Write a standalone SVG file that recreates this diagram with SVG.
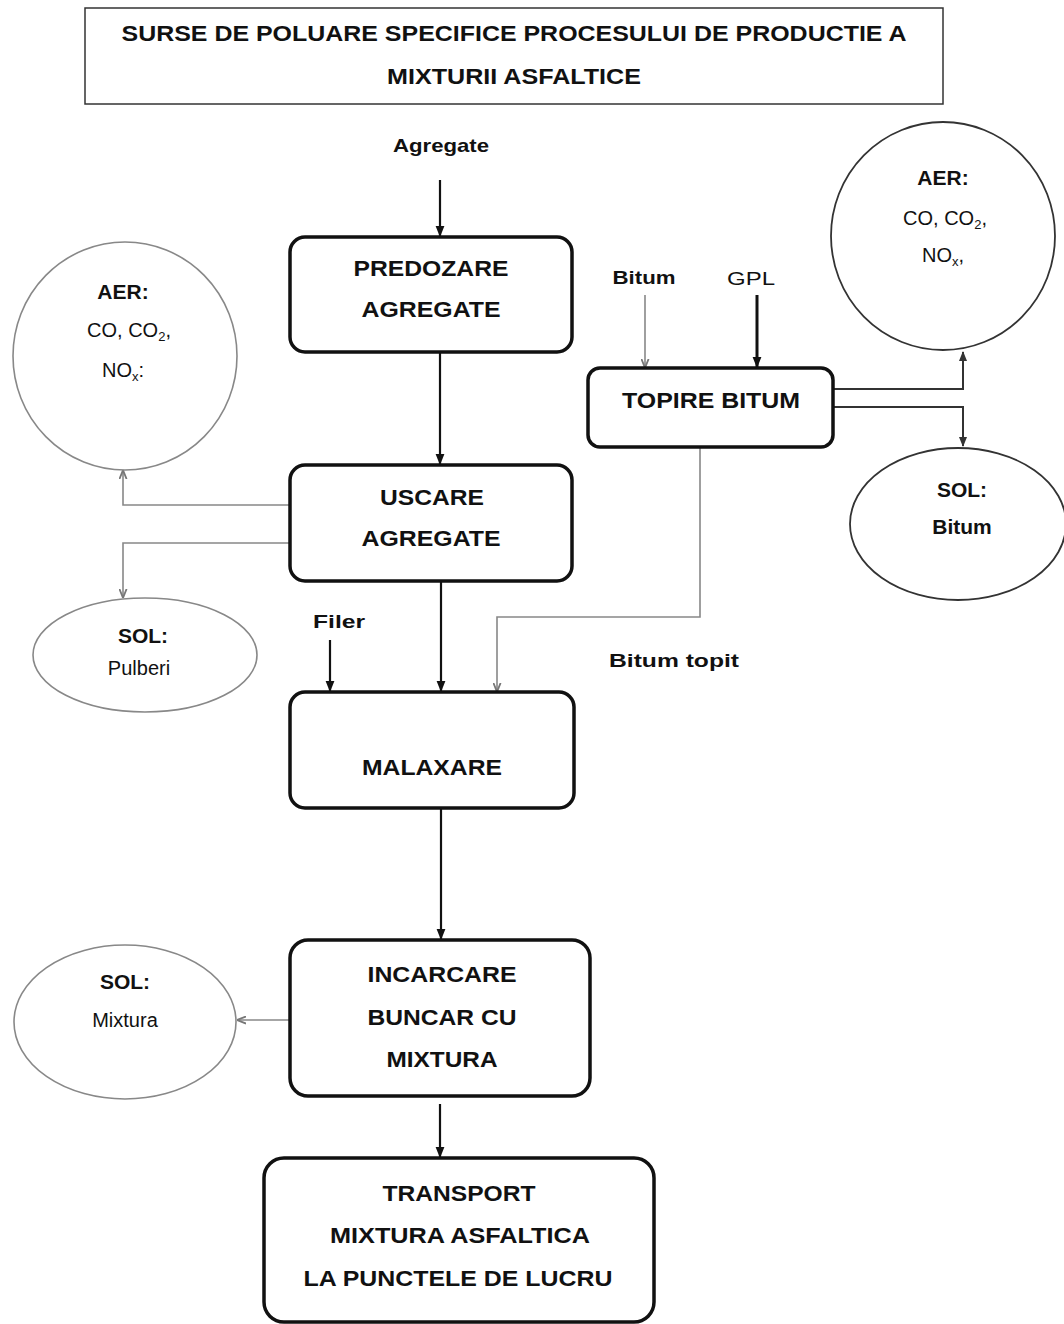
<svg xmlns="http://www.w3.org/2000/svg" width="1064" height="1324" viewBox="0 0 1064 1324">
<defs>
<marker id="ab" viewBox="0 0 10 10" refX="9" refY="5" markerWidth="11" markerHeight="11" orient="auto" markerUnits="userSpaceOnUse">
<path d="M0,1 L10,5 L0,9 z" fill="#111"/>
</marker>
<marker id="ag" viewBox="0 0 10 10" refX="9" refY="5" markerWidth="9" markerHeight="9" orient="auto" markerUnits="userSpaceOnUse">
<path d="M0,1 L10,5 L0,9" fill="none" stroke="#777" stroke-width="2"/>
</marker>
<marker id="ad" viewBox="0 0 10 10" refX="9" refY="5" markerWidth="10" markerHeight="10" orient="auto" markerUnits="userSpaceOnUse">
<path d="M0,1 L10,5 L0,9 z" fill="#333"/>
</marker>
</defs>
<style>
text{font-family:"Liberation Sans",Arial,sans-serif;fill:#111}
.t{font-size:22px;font-weight:bold;text-anchor:middle}
.b{font-size:22px;font-weight:bold;text-anchor:middle}
.l{font-size:19px;font-weight:bold;text-anchor:middle}
.lr{font-size:19px;text-anchor:middle}
.e{font-size:20px;text-anchor:middle}
.eb{font-size:21px;font-weight:bold;text-anchor:middle}
.box{fill:#fff;stroke:#111;stroke-width:3.5}
.ring{fill:#fff;stroke:#888;stroke-width:1.6}
.ringd{fill:#fff;stroke:#333;stroke-width:1.8}
.main{stroke:#111;stroke-width:2.2;fill:none}
.gray{stroke:#888;stroke-width:1.6;fill:none}
.dark{stroke:#333;stroke-width:2;fill:none}
</style>
<g id="title">
<rect x="85" y="8" width="858" height="96" fill="#fff" stroke="#333" stroke-width="1.5"/>
<text class="t" x="514" y="41" textLength="785" lengthAdjust="spacingAndGlyphs">SURSE DE POLUARE SPECIFICE PROCESULUI DE PRODUCTIE A</text>
<text class="t" x="514" y="84" textLength="254" lengthAdjust="spacingAndGlyphs">MIXTURII ASFALTICE</text>
</g>
<g id="connectors">
<line class="main" x1="440" y1="180" x2="440" y2="236" marker-end="url(#ab)"/>
<line class="main" x1="440" y1="352" x2="440" y2="464" marker-end="url(#ab)"/>
<line class="main" x1="441" y1="581" x2="441" y2="691" marker-end="url(#ab)"/>
<line class="main" x1="330" y1="640" x2="330" y2="691" marker-end="url(#ab)"/>
<polyline class="gray" points="700,448 700,617 497,617 497,691" marker-end="url(#ag)"/>
<line class="main" x1="441" y1="808" x2="441" y2="939" marker-end="url(#ab)"/>
<line class="main" x1="440" y1="1104" x2="440" y2="1157" marker-end="url(#ab)"/>
<line class="gray" x1="645" y1="295" x2="645" y2="367" marker-end="url(#ag)"/>
<line x1="757" y1="295" x2="757" y2="367" stroke="#111" stroke-width="3" marker-end="url(#ab)"/>
<polyline class="dark" points="833,389 963,389 963,352" marker-end="url(#ad)"/>
<polyline class="dark" points="833,407 963,407 963,446" marker-end="url(#ad)"/>
<polyline class="gray" points="290,505 123,505 123,471" marker-end="url(#ag)"/>
<polyline class="gray" points="290,543 123,543 123,597" marker-end="url(#ag)"/>
<line class="gray" x1="290" y1="1020" x2="238" y2="1020" marker-end="url(#ag)"/>
</g>
<g id="label-agregate"><text class="l" x="441" y="152" textLength="96" lengthAdjust="spacingAndGlyphs">Agregate</text></g>
<g id="label-bitum"><text class="l" x="644" y="284" textLength="63" lengthAdjust="spacingAndGlyphs">Bitum</text></g>
<g id="label-gpl"><text class="lr" x="751" y="285" textLength="48" lengthAdjust="spacingAndGlyphs">GPL</text></g>
<g id="label-filer"><text class="l" x="339" y="628" textLength="52" lengthAdjust="spacingAndGlyphs">Filer</text></g>
<g id="label-bitum-topit"><text class="l" x="674" y="667" textLength="130" lengthAdjust="spacingAndGlyphs">Bitum topit</text></g>
<g id="predozare">
<rect class="box" x="290" y="237" width="282" height="115" rx="15"/>
<text class="b" x="431" y="276" textLength="155" lengthAdjust="spacingAndGlyphs">PREDOZARE</text>
<text class="b" x="431" y="317" textLength="139" lengthAdjust="spacingAndGlyphs">AGREGATE</text>
</g>
<g id="uscare">
<rect class="box" x="290" y="465" width="282" height="116" rx="15"/>
<text class="b" x="432" y="505" textLength="104" lengthAdjust="spacingAndGlyphs">USCARE</text>
<text class="b" x="431" y="546" textLength="139" lengthAdjust="spacingAndGlyphs">AGREGATE</text>
</g>
<g id="malaxare">
<rect class="box" x="290" y="692" width="284" height="116" rx="15"/>
<text class="b" x="432" y="775" textLength="140" lengthAdjust="spacingAndGlyphs">MALAXARE</text>
</g>
<g id="incarcare">
<rect class="box" x="290" y="940" width="300" height="156" rx="18"/>
<text class="b" x="442" y="982" textLength="149" lengthAdjust="spacingAndGlyphs">INCARCARE</text>
<text class="b" x="442" y="1025" textLength="149" lengthAdjust="spacingAndGlyphs">BUNCAR CU</text>
<text class="b" x="442" y="1067" textLength="111" lengthAdjust="spacingAndGlyphs">MIXTURA</text>
</g>
<g id="transport">
<rect class="box" x="264" y="1158" width="390" height="164" rx="20"/>
<text class="b" x="459" y="1201" textLength="153" lengthAdjust="spacingAndGlyphs">TRANSPORT</text>
<text class="b" x="460" y="1243" textLength="260" lengthAdjust="spacingAndGlyphs">MIXTURA ASFALTICA</text>
<text class="b" x="458" y="1286" textLength="309" lengthAdjust="spacingAndGlyphs">LA PUNCTELE DE LUCRU</text>
</g>
<g id="topire">
<rect class="box" x="588" y="368" width="245" height="79" rx="12"/>
<text class="b" x="711" y="408" textLength="178" lengthAdjust="spacingAndGlyphs">TOPIRE BITUM</text>
</g>
<g id="aer-right">
<ellipse class="ringd" cx="943" cy="236" rx="112" ry="114"/>
<text class="eb" x="943" y="185">AER:</text>
<text class="e" x="945" y="225">CO, CO<tspan font-size="13" dy="4">2</tspan><tspan dy="-4">,</tspan></text>
<text class="e" x="943" y="262">NO<tspan font-size="13" dy="4">x</tspan><tspan dy="-4">,</tspan></text>
</g>
<g id="sol-bitum">
<ellipse class="ringd" cx="958" cy="524" rx="108" ry="76"/>
<text class="eb" x="962" y="497">SOL:</text>
<text class="eb" x="962" y="534">Bitum</text>
</g>
<g id="aer-left">
<ellipse class="ring" cx="125" cy="356" rx="112" ry="114"/>
<text class="eb" x="123" y="299">AER:</text>
<text class="e" x="129" y="337">CO, CO<tspan font-size="13" dy="4">2</tspan><tspan dy="-4">,</tspan></text>
<text class="e" x="123" y="377">NO<tspan font-size="13" dy="4">x</tspan><tspan dy="-4">:</tspan></text>
</g>
<g id="sol-pulberi">
<ellipse class="ring" cx="145" cy="655" rx="112" ry="57"/>
<text class="eb" x="143" y="643">SOL:</text>
<text class="e" x="139" y="675">Pulberi</text>
</g>
<g id="sol-mixtura">
<ellipse class="ring" cx="125" cy="1022" rx="111" ry="77"/>
<text class="eb" x="125" y="989">SOL:</text>
<text class="e" x="125" y="1027">Mixtura</text>
</g>
</svg>
